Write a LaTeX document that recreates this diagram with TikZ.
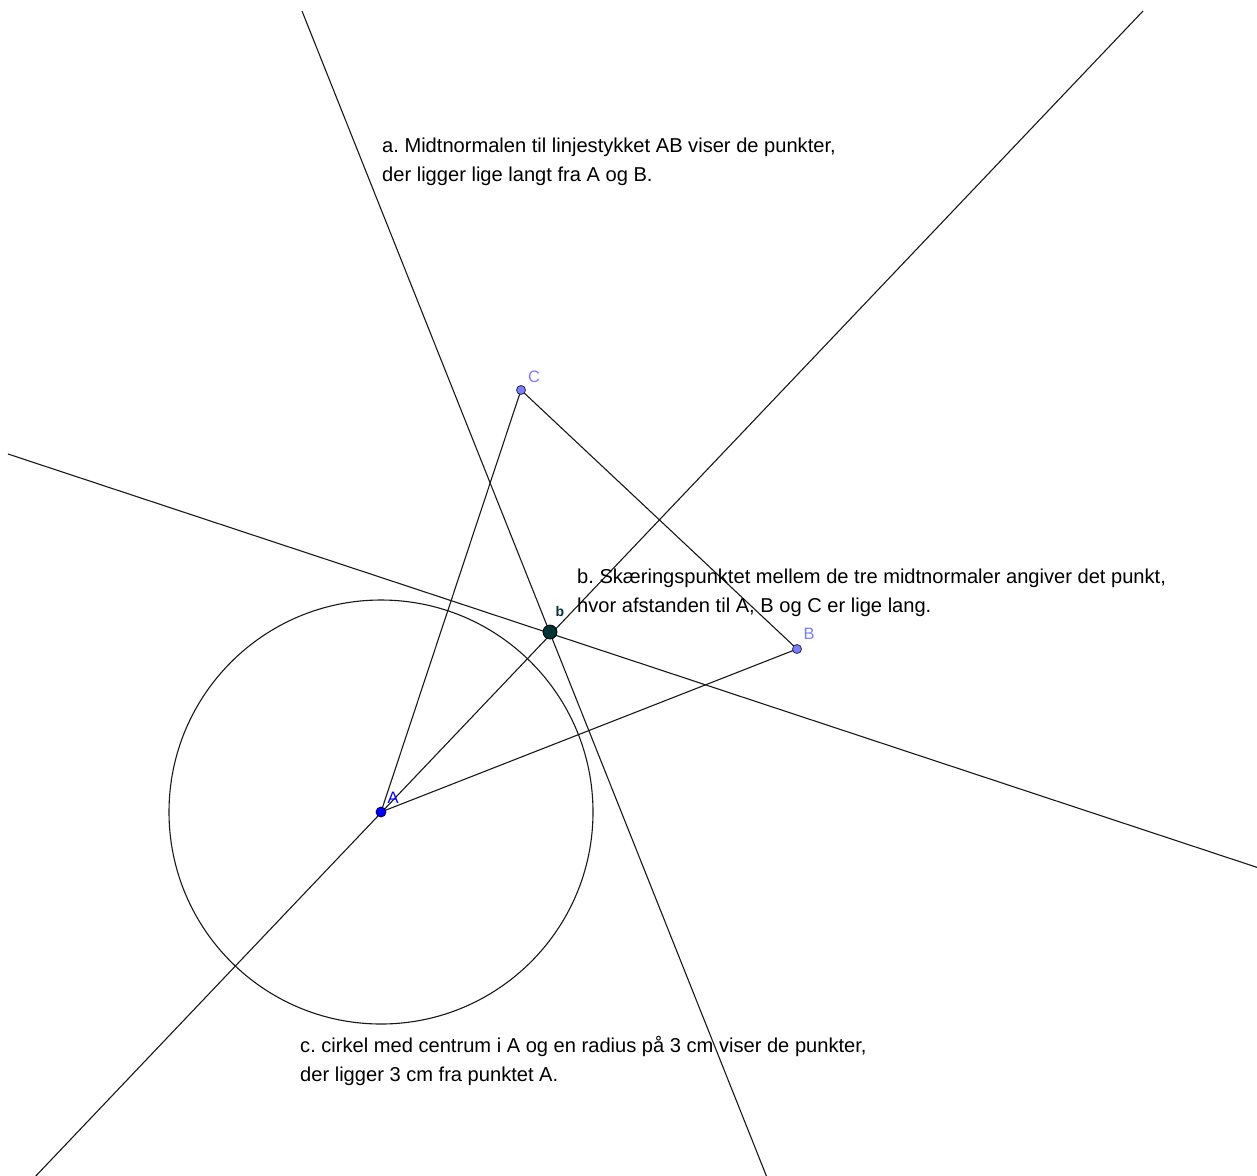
\documentclass[tikz,border=0pt]{standalone}
\usepackage{fontspec}
\setmainfont{Liberation Sans}
\definecolor{lightpt}{RGB}{125,125,255}
\definecolor{ptedge}{RGB}{40,40,90}
\definecolor{bpt}{RGB}{0,51,51}
\definecolor{linec}{RGB}{25,25,25}
\tikzset{
  geoline/.style={draw=linec, line width=1.1pt},
  txt/.style={anchor=base west, inner sep=0pt, font=\fontsize{20.1}{24}\selectfont\frenchspacing, text=black},
  ptlabel/.style={inner sep=0pt, font=\fontsize{16.5}{18}\selectfont},
}
\begin{document}
\begin{tikzpicture}[x=1pt,y=-1pt]
\useasboundingbox[fill=white] (0,0) rectangle (1257,1175);
\clip (0,0) rectangle (1257,1175);
% points
\coordinate (A) at (381,812);
\coordinate (B) at (797,649);
\coordinate (C) at (521,390);
\coordinate (b) at (550,632);
% line end points
\coordinate (l1a) at (302,11);
\coordinate (l1b) at (768,1180);
\coordinate (l2a) at (8,454);
\coordinate (l2b) at (1262,869);
\coordinate (l3a) at (1143,11);
\coordinate (l3b) at (32,1180);
% perpendicular bisectors
\draw[geoline] (l1a) -- (l1b);
\draw[geoline] (l2a) -- (l2b);
\draw[geoline] (l3a) -- (l3b);
% triangle
\draw[geoline] (A) -- (C) -- (B) -- (A);
% circle
\draw[geoline] (A) circle (212);
% point markers
\fill[lightpt, draw=ptedge, line width=0.8pt] (C) circle (4.5);
\fill[lightpt, draw=ptedge, line width=0.8pt] (B) circle (4.5);
\fill[blue, draw=black!70!blue, line width=0.8pt] (A) circle (5);
\fill[bpt, draw=black, line width=0.8pt] (b) circle (7);
% point labels
\node[ptlabel, text=lightpt] (Clab) at (534,377) {C};
\node[ptlabel, text=lightpt] (Blab) at (809,634) {B};
\node[ptlabel, text=blue] (Alab) at (393,798) {A};
\node[ptlabel, text=bpt, font=\fontsize{14}{16}\selectfont\bfseries] (blab) at (560,611) {b};
% texts
\node[txt] (a1) at (382,152) {a. Midtnormalen til linjestykket AB viser de punkter,};
\node[txt] (a2) at (382,181) {der ligger lige langt fra A og B.};
\node[txt] (b1) at (577,583) {b. Skæringspunktet mellem de tre midtnormaler angiver det punkt,};
\node[txt] (b2) at (577,612) {hvor afstanden til A, B og C er lige lang.};
\node[txt] (c1) at (300,1052) {c. cirkel med centrum i A og en radius på 3 cm viser de punkter,};
\node[txt] (c2) at (300,1081) {der ligger 3 cm fra punktet A.};
\end{tikzpicture}
\end{document}
